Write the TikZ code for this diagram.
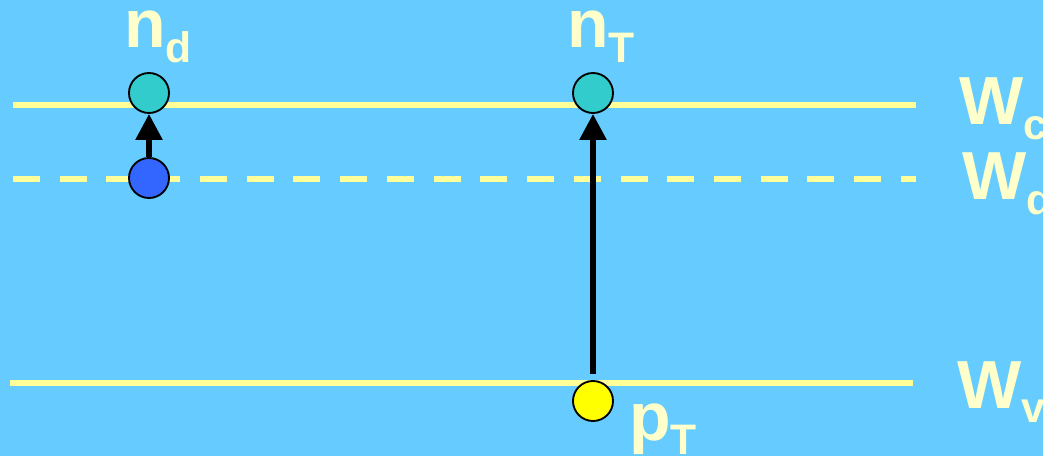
\documentclass[tikz,border=0pt]{standalone}
\usepackage{fontspec}
\setmainfont{Liberation Sans}
\usetikzlibrary{arrows.meta}
\definecolor{bg}{HTML}{66CCFF}
\definecolor{lvl}{HTML}{FFFF99}
\definecolor{txt}{HTML}{FFFFCC}
\definecolor{teal}{HTML}{33CCCC}
\definecolor{elec}{HTML}{3366FF}
\definecolor{hole}{HTML}{FFFF00}
\newcommand{\lbl}[2]{\fontsize{51}{51}\selectfont\bfseries #1\raisebox{-11pt}{\fontsize{32}{32}\selectfont #2}}
\begin{document}
\begin{tikzpicture}[x=0.75pt,y=-0.75pt,
  level/.style={draw=lvl,line width=4.5pt},
  dlevel/.style={draw=lvl,line width=4.5pt,dash pattern=on 20.25pt off 14.8pt},
  dot/.style={circle,draw=black,line width=1.4pt,minimum size=30pt,inner sep=0pt},
  arr/.style={draw=black,line width=4.2pt,-{Triangle[length=19.5pt,width=19.5pt]}},
  lab/.style={text=txt,anchor=base west,inner sep=0pt}]
\fill[bg] (0,0) rectangle (1043,456);
\useasboundingbox (0,0) rectangle (1043,456);
\coordinate (c1) at (13,105); \coordinate (c2) at (916,105);
\coordinate (d1) at (13,179); \coordinate (d2) at (916,179);
\coordinate (v1) at (10,383); \coordinate (v2) at (913,383);
\draw[level] (c1) -- (c2);
\draw[dlevel] (d1) -- (d2);
\draw[level] (v1) -- (v2);
\node[dot,fill=teal] (nd) at (149,93) {};
\node[dot,fill=elec] (ed) at (149,178) {};
\node[dot,fill=teal] (nt) at (593,93) {};
\node[dot,fill=hole] (pt) at (593,401) {};
\draw[arr] (ed) -- (nd);
\draw[arr,shorten <=4.5pt] (pt) -- (nt);
\node[lab] (lnd) at (124,48) {\lbl{n}{d}};
\node[lab] (lnt) at (567,48) {\lbl{n}{T}};
\node[lab] (lpt) at (629,440) {\lbl{p}{T}};
\node[lab] (lwc) at (959,125) {\lbl{W}{c}};
\node[lab] (lwd) at (962,200) {\lbl{W}{d}};
\node[lab] (lwv) at (957,408) {\lbl{W}{v}};
\end{tikzpicture}
\end{document}
